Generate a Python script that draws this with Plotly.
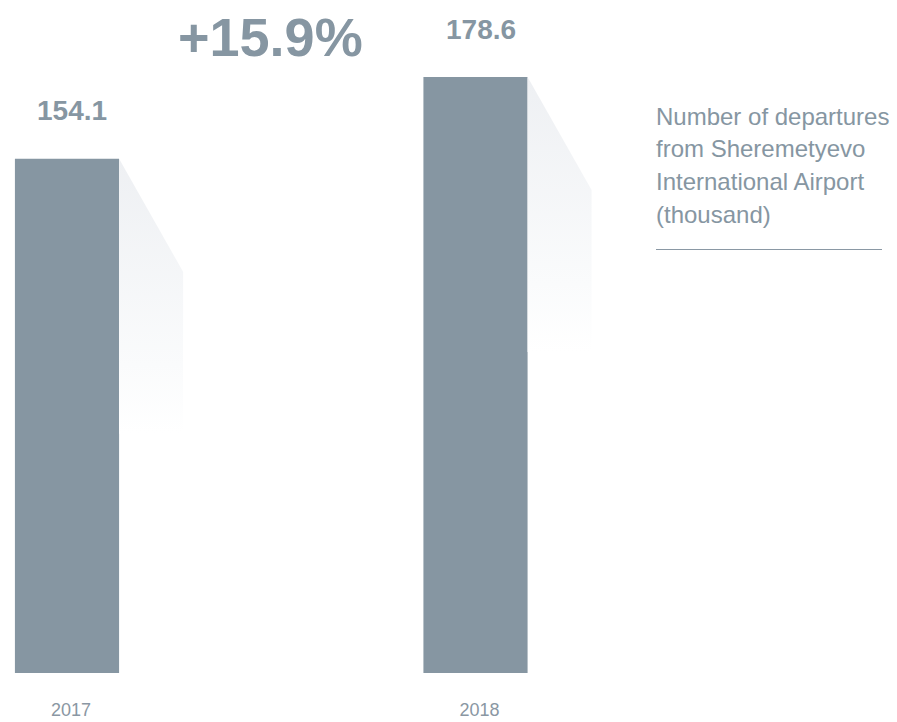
import plotly.graph_objects as go

# Departures from Sheremetyevo International Airport, thousand
years = ["2017", "2018"]
departures = [154.1, 178.6]
growth_label = "+15.9%"
caption_lines = [
    "Number of departures",
    "from Sheremetyevo",
    "International Airport",
    "(thousand)",
]

BAR = "#8696a2"
TEXT = "#8696a2"
FONT = "Liberation Sans, Arial, Helvetica, sans-serif"

W, H = 897, 722
PLOT_BOTTOM = 673          # pixel row of the baseline
PX_PER_UNIT_X = 408.5      # pixels between category centres
X0_PX = 67                 # pixel column of the first category centre
PX_PER_UNIT_Y = 3.337

x_pos = list(range(len(years)))
half_w = 0.1275            # half bar width in category units
shadow_dx = 64 / PX_PER_UNIT_X
shadow_slope = 113 / PX_PER_UNIT_Y
shadow_len = 275 / PX_PER_UNIT_Y

fig = go.Figure()

# soft fading shadow to the right of every bar
for xc, v in zip(x_pos, departures):
    xr = xc + half_w
    fig.add_trace(go.Scatter(
        x=[xr, xr + shadow_dx, xr + shadow_dx, xr, xr],
        y=[v, v - shadow_slope, v - shadow_len, v - shadow_len, v],
        mode="lines", fill="toself",
        line=dict(width=0, color="rgba(0,0,0,0)"),
        fillgradient=dict(
            type="vertical",
            colorscale=[[0, "rgba(255,255,255,1)"], [0.25, "#fafbfc"], [1, "#eef0f3"]],
        ),
        hoverinfo="skip", showlegend=False,
    ))

fig.add_trace(go.Bar(
    x=x_pos, y=departures, width=2 * half_w,
    marker=dict(color=BAR, line=dict(width=0)),
    hoverinfo="skip", showlegend=False,
))

# value labels above bars
for xc, v in zip(x_pos, departures):
    fig.add_annotation(
        x=xc, y=v, text=f"<b>{v:.1f}</b>", showarrow=False,
        xshift=5, yshift=48, yanchor="middle",
        font=dict(family=FONT, size=28, color=TEXT),
    )

def px_x(p):
    return p / W

def px_y(p):
    return (PLOT_BOTTOM - p) / PLOT_BOTTOM

fig.add_annotation(
    xref="paper", yref="paper", x=px_x(270), y=px_y(37),
    text=f"<b>{growth_label}</b>", showarrow=False,
    xanchor="center", yanchor="middle",
    font=dict(family=FONT, size=54, color=TEXT),
)

for i, line in enumerate(caption_lines):
    fig.add_annotation(
        xref="paper", yref="paper", x=px_x(654), y=px_y(116 + i * 32.7),
        text=line, showarrow=False, xanchor="left", yanchor="middle",
        font=dict(family=FONT, size=24, color=TEXT),
    )

fig.add_shape(
    type="line", xref="paper", yref="paper",
    x0=px_x(656), x1=px_x(882), y0=px_y(249.5), y1=px_y(249.5),
    line=dict(color="#8a98a4", width=1),
)

fig.update_layout(
    width=W, height=H,
    margin=dict(l=0, r=0, t=0, b=H - PLOT_BOTTOM, pad=0),
    paper_bgcolor="white", plot_bgcolor="white",
    xaxis=dict(
        range=[-X0_PX / PX_PER_UNIT_X, (W - X0_PX) / PX_PER_UNIT_X],
        tickvals=x_pos, ticktext=years, showgrid=False, zeroline=False,
        showline=False, ticks="", ticklabelstandoff=24, ticklabelshift=4,
        tickfont=dict(family=FONT, size=18, color="#8a97a3"),
        fixedrange=True,
    ),
    yaxis=dict(
        range=[0, PLOT_BOTTOM / PX_PER_UNIT_Y], visible=False,
        showgrid=False, zeroline=False, fixedrange=True,
    ),
)

fig.write_html("out.html")
